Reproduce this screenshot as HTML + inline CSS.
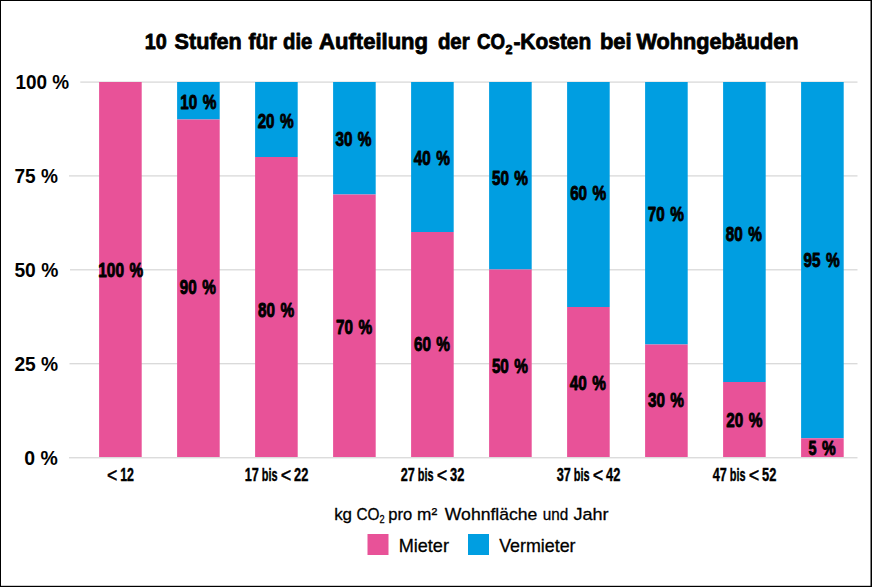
<!DOCTYPE html>
<html lang="de"><head><meta charset="utf-8">
<title>10 Stufen für die Aufteilung der CO2-Kosten bei Wohngebäuden</title>
<style>
html,body{margin:0;padding:0;background:#fff;}
body{width:872px;height:587px;overflow:hidden;position:relative;}
svg{display:block;position:absolute;left:0;top:0;}
text{font-family:"Liberation Sans",sans-serif;fill:#000;white-space:pre;}
.b{font-weight:bold;}
.s5{stroke:#000;stroke-width:0.9px;stroke-linejoin:round;}
.s2{stroke:#000;stroke-width:0.3px;stroke-linejoin:round;}
.s3{stroke:#000;stroke-width:0.8px;stroke-linejoin:round;}
</style></head><body>
<svg width="872" height="587" viewBox="0 0 872 587">
<rect x="0" y="0" width="872" height="587" fill="#fff"/>
<rect x="80.3" y="81.45" width="777.2" height="1.3" fill="#d9d9d9"/>
<rect x="69.0" y="175.25" width="788.5" height="1.3" fill="#d9d9d9"/>
<rect x="70.0" y="269.15" width="787.5" height="1.3" fill="#d9d9d9"/>
<rect x="69.5" y="363.05" width="788.0" height="1.3" fill="#d9d9d9"/>
<rect x="69.0" y="457.10" width="788.5" height="1.3" fill="#d9d9d9"/>
<rect x="99.1" y="82.00" width="42.6" height="375.00" fill="#e85298"/>
<rect x="177.1" y="82.0" width="42.6" height="37.50" fill="#009ee1"/>
<rect x="177.1" y="119.50" width="42.6" height="337.50" fill="#e85298"/>
<rect x="255.1" y="82.0" width="42.6" height="75.00" fill="#009ee1"/>
<rect x="255.1" y="157.00" width="42.6" height="300.00" fill="#e85298"/>
<rect x="333.1" y="82.0" width="42.6" height="112.50" fill="#009ee1"/>
<rect x="333.1" y="194.50" width="42.6" height="262.50" fill="#e85298"/>
<rect x="411.1" y="82.0" width="42.6" height="150.00" fill="#009ee1"/>
<rect x="411.1" y="232.00" width="42.6" height="225.00" fill="#e85298"/>
<rect x="489.1" y="82.0" width="42.6" height="187.50" fill="#009ee1"/>
<rect x="489.1" y="269.50" width="42.6" height="187.50" fill="#e85298"/>
<rect x="567.1" y="82.0" width="42.6" height="225.00" fill="#009ee1"/>
<rect x="567.1" y="307.00" width="42.6" height="150.00" fill="#e85298"/>
<rect x="645.1" y="82.0" width="42.6" height="262.50" fill="#009ee1"/>
<rect x="645.1" y="344.50" width="42.6" height="112.50" fill="#e85298"/>
<rect x="723.1" y="82.0" width="42.6" height="300.00" fill="#009ee1"/>
<rect x="723.1" y="382.00" width="42.6" height="75.00" fill="#e85298"/>
<rect x="801.1" y="82.0" width="42.6" height="356.25" fill="#009ee1"/>
<rect x="801.1" y="438.25" width="42.6" height="18.75" fill="#e85298"/>
<text y="49.4" font-size="21.6" class="b s3"><tspan x="144.80" textLength="22.01" lengthAdjust="spacingAndGlyphs">10</tspan> <tspan x="174.60" textLength="67.20" lengthAdjust="spacingAndGlyphs">Stufen</tspan> <tspan x="248.50" textLength="28.40" lengthAdjust="spacingAndGlyphs">für</tspan> <tspan x="283.10" textLength="29.30" lengthAdjust="spacingAndGlyphs">die</tspan> <tspan x="319.10" textLength="108.91" lengthAdjust="spacingAndGlyphs">Aufteilung</tspan> <tspan x="437.90" textLength="31.80" lengthAdjust="spacingAndGlyphs">der</tspan> <tspan x="477.00" textLength="28.00" lengthAdjust="spacingAndGlyphs">CO</tspan><tspan x="505.50" dy="4.2" font-size="13.5" textLength="7.00" lengthAdjust="spacingAndGlyphs">2</tspan><tspan x="513.40" textLength="77.90" lengthAdjust="spacingAndGlyphs" dy="-4.2">-Kosten</tspan> <tspan x="599.90" textLength="31.70" lengthAdjust="spacingAndGlyphs">bei</tspan> <tspan x="636.50" textLength="162.10" lengthAdjust="spacingAndGlyphs">Wohngebäuden</tspan></text>
<text y="89.4" font-size="20.4" class="b"><tspan x="15.40" textLength="53.71" lengthAdjust="spacingAndGlyphs">100 %</tspan></text>
<text y="183.2" font-size="20.4" class="b"><tspan x="14.40" textLength="43.51" lengthAdjust="spacingAndGlyphs">75 %</tspan></text>
<text y="277.1" font-size="20.4" class="b"><tspan x="14.40" textLength="43.91" lengthAdjust="spacingAndGlyphs">50 %</tspan></text>
<text y="371.0" font-size="20.4" class="b"><tspan x="14.40" textLength="43.81" lengthAdjust="spacingAndGlyphs">25 %</tspan></text>
<text y="465.1" font-size="20.4" class="b"><tspan x="24.30" textLength="33.50" lengthAdjust="spacingAndGlyphs">0 %</tspan></text>
<text y="277.3" font-size="20.0" class="b s5"><tspan x="98.20" textLength="25.81" lengthAdjust="spacingAndGlyphs">100</tspan> <tspan x="129.50" textLength="13.70" lengthAdjust="spacingAndGlyphs">%</tspan></text>
<text y="294.1" font-size="20.0" class="b s5"><tspan x="179.80" textLength="16.90" lengthAdjust="spacingAndGlyphs">90</tspan> <tspan x="202.20" textLength="13.70" lengthAdjust="spacingAndGlyphs">%</tspan></text>
<text y="317.4" font-size="20.0" class="b s5"><tspan x="258.00" textLength="16.90" lengthAdjust="spacingAndGlyphs">80</tspan> <tspan x="280.40" textLength="13.70" lengthAdjust="spacingAndGlyphs">%</tspan></text>
<text y="333.9" font-size="20.0" class="b s5"><tspan x="336.00" textLength="16.90" lengthAdjust="spacingAndGlyphs">70</tspan> <tspan x="358.40" textLength="13.70" lengthAdjust="spacingAndGlyphs">%</tspan></text>
<text y="350.9" font-size="20.0" class="b s5"><tspan x="413.95" textLength="16.90" lengthAdjust="spacingAndGlyphs">60</tspan> <tspan x="436.35" textLength="13.70" lengthAdjust="spacingAndGlyphs">%</tspan></text>
<text y="373.0" font-size="20.0" class="b s5"><tspan x="491.90" textLength="16.90" lengthAdjust="spacingAndGlyphs">50</tspan> <tspan x="514.30" textLength="13.70" lengthAdjust="spacingAndGlyphs">%</tspan></text>
<text y="389.8" font-size="20.0" class="b s5"><tspan x="569.75" textLength="16.90" lengthAdjust="spacingAndGlyphs">40</tspan> <tspan x="592.15" textLength="13.70" lengthAdjust="spacingAndGlyphs">%</tspan></text>
<text y="407.1" font-size="20.0" class="b s5"><tspan x="647.95" textLength="16.90" lengthAdjust="spacingAndGlyphs">30</tspan> <tspan x="670.35" textLength="13.70" lengthAdjust="spacingAndGlyphs">%</tspan></text>
<text y="427.3" font-size="20.0" class="b s5"><tspan x="726.25" textLength="16.90" lengthAdjust="spacingAndGlyphs">20</tspan> <tspan x="748.65" textLength="13.70" lengthAdjust="spacingAndGlyphs">%</tspan></text>
<text y="455.3" font-size="20.0" class="b s5"><tspan x="808.45" textLength="8.00" lengthAdjust="spacingAndGlyphs">5</tspan> <tspan x="821.95" textLength="13.70" lengthAdjust="spacingAndGlyphs">%</tspan></text>
<text y="108.9" font-size="20.0" class="b s5"><tspan x="180.35" textLength="16.90" lengthAdjust="spacingAndGlyphs">10</tspan> <tspan x="202.75" textLength="13.70" lengthAdjust="spacingAndGlyphs">%</tspan></text>
<text y="127.7" font-size="20.0" class="b s5"><tspan x="257.65" textLength="16.90" lengthAdjust="spacingAndGlyphs">20</tspan> <tspan x="280.05" textLength="13.70" lengthAdjust="spacingAndGlyphs">%</tspan></text>
<text y="146.1" font-size="20.0" class="b s5"><tspan x="335.45" textLength="16.90" lengthAdjust="spacingAndGlyphs">30</tspan> <tspan x="357.85" textLength="13.70" lengthAdjust="spacingAndGlyphs">%</tspan></text>
<text y="165.1" font-size="20.0" class="b s5"><tspan x="413.75" textLength="16.90" lengthAdjust="spacingAndGlyphs">40</tspan> <tspan x="436.15" textLength="13.70" lengthAdjust="spacingAndGlyphs">%</tspan></text>
<text y="185.2" font-size="20.0" class="b s5"><tspan x="491.95" textLength="16.90" lengthAdjust="spacingAndGlyphs">50</tspan> <tspan x="514.35" textLength="13.70" lengthAdjust="spacingAndGlyphs">%</tspan></text>
<text y="199.8" font-size="20.0" class="b s5"><tspan x="570.15" textLength="16.90" lengthAdjust="spacingAndGlyphs">60</tspan> <tspan x="592.55" textLength="13.70" lengthAdjust="spacingAndGlyphs">%</tspan></text>
<text y="220.6" font-size="20.0" class="b s5"><tspan x="647.85" textLength="16.90" lengthAdjust="spacingAndGlyphs">70</tspan> <tspan x="670.25" textLength="13.70" lengthAdjust="spacingAndGlyphs">%</tspan></text>
<text y="240.9" font-size="20.0" class="b s5"><tspan x="725.80" textLength="16.90" lengthAdjust="spacingAndGlyphs">80</tspan> <tspan x="748.20" textLength="13.70" lengthAdjust="spacingAndGlyphs">%</tspan></text>
<text y="267.4" font-size="20.0" class="b s5"><tspan x="803.50" textLength="16.90" lengthAdjust="spacingAndGlyphs">95</tspan> <tspan x="825.90" textLength="13.70" lengthAdjust="spacingAndGlyphs">%</tspan></text>
<text y="480.5" font-size="17.6" class="b" style="stroke:#000;stroke-width:0.4px"><tspan x="106.95" dy="1.7" font-size="19.5" textLength="10.30" lengthAdjust="spacingAndGlyphs" style="font-weight:normal;stroke:#000;stroke-width:0.5px">&lt;</tspan> <tspan x="120.20" textLength="13.80" lengthAdjust="spacingAndGlyphs" dy="-1.7">12</tspan></text>
<text y="480.5" font-size="17.6" class="b" style="stroke:#000;stroke-width:0.4px"><tspan x="244.70" textLength="14.10" lengthAdjust="spacingAndGlyphs">17</tspan> <tspan x="261.80" textLength="15.80" lengthAdjust="spacingAndGlyphs">bis</tspan> <tspan x="280.75" dy="1.7" font-size="19.5" textLength="10.50" lengthAdjust="spacingAndGlyphs" style="font-weight:normal;stroke:#000;stroke-width:0.5px">&lt;</tspan> <tspan x="294.00" textLength="14.30" lengthAdjust="spacingAndGlyphs" dy="-1.7">22</tspan></text>
<text y="480.5" font-size="17.6" class="b" style="stroke:#000;stroke-width:0.4px"><tspan x="400.70" textLength="14.10" lengthAdjust="spacingAndGlyphs">27</tspan> <tspan x="417.80" textLength="15.80" lengthAdjust="spacingAndGlyphs">bis</tspan> <tspan x="436.75" dy="1.7" font-size="19.5" textLength="10.50" lengthAdjust="spacingAndGlyphs" style="font-weight:normal;stroke:#000;stroke-width:0.5px">&lt;</tspan> <tspan x="450.00" textLength="14.30" lengthAdjust="spacingAndGlyphs" dy="-1.7">32</tspan></text>
<text y="480.5" font-size="17.6" class="b" style="stroke:#000;stroke-width:0.4px"><tspan x="556.70" textLength="14.10" lengthAdjust="spacingAndGlyphs">37</tspan> <tspan x="573.80" textLength="15.80" lengthAdjust="spacingAndGlyphs">bis</tspan> <tspan x="592.75" dy="1.7" font-size="19.5" textLength="10.50" lengthAdjust="spacingAndGlyphs" style="font-weight:normal;stroke:#000;stroke-width:0.5px">&lt;</tspan> <tspan x="606.00" textLength="14.30" lengthAdjust="spacingAndGlyphs" dy="-1.7">42</tspan></text>
<text y="480.5" font-size="17.6" class="b" style="stroke:#000;stroke-width:0.4px"><tspan x="712.70" textLength="14.10" lengthAdjust="spacingAndGlyphs">47</tspan> <tspan x="729.80" textLength="15.80" lengthAdjust="spacingAndGlyphs">bis</tspan> <tspan x="748.75" dy="1.7" font-size="19.5" textLength="10.50" lengthAdjust="spacingAndGlyphs" style="font-weight:normal;stroke:#000;stroke-width:0.5px">&lt;</tspan> <tspan x="762.00" textLength="14.30" lengthAdjust="spacingAndGlyphs" dy="-1.7">52</tspan></text>
<text y="519.6" font-size="17.4" class="s2"><tspan x="334.15" textLength="17.90" lengthAdjust="spacingAndGlyphs">kg</tspan> <tspan x="356.45" textLength="23.10" lengthAdjust="spacingAndGlyphs">CO</tspan><tspan x="379.55" dy="3.6" font-size="11" textLength="5.10" lengthAdjust="spacingAndGlyphs">2</tspan> <tspan x="388.35" textLength="23.91" lengthAdjust="spacingAndGlyphs" dy="-3.6">pro</tspan> <tspan x="417.05" textLength="20.10" lengthAdjust="spacingAndGlyphs">m²</tspan> <tspan x="444.85" textLength="92.50" lengthAdjust="spacingAndGlyphs">Wohnfläche</tspan> <tspan x="542.85" textLength="25.51" lengthAdjust="spacingAndGlyphs">und</tspan> <tspan x="573.45" textLength="35.11" lengthAdjust="spacingAndGlyphs">Jahr</tspan></text>
<rect x="367.5" y="534" width="21" height="21" fill="#e85298"/>
<text y="551.7" font-size="18.5" class="s2"><tspan x="398.65" textLength="50.31" lengthAdjust="spacingAndGlyphs">Mieter</tspan></text>
<rect x="468" y="534" width="21" height="21" fill="#009ee1"/>
<text y="551.7" font-size="18.5" class="s2"><tspan x="499.15" textLength="76.41" lengthAdjust="spacingAndGlyphs">Vermieter</tspan></text>
<rect x="0" y="0" width="872" height="1" fill="#000"/>
<rect x="0" y="0" width="1" height="587" fill="#000"/>
<rect x="870.5" y="0" width="1.5" height="587" fill="#000"/>
<rect x="0" y="585.8" width="872" height="1.2" fill="#000"/>
</svg></body></html>
